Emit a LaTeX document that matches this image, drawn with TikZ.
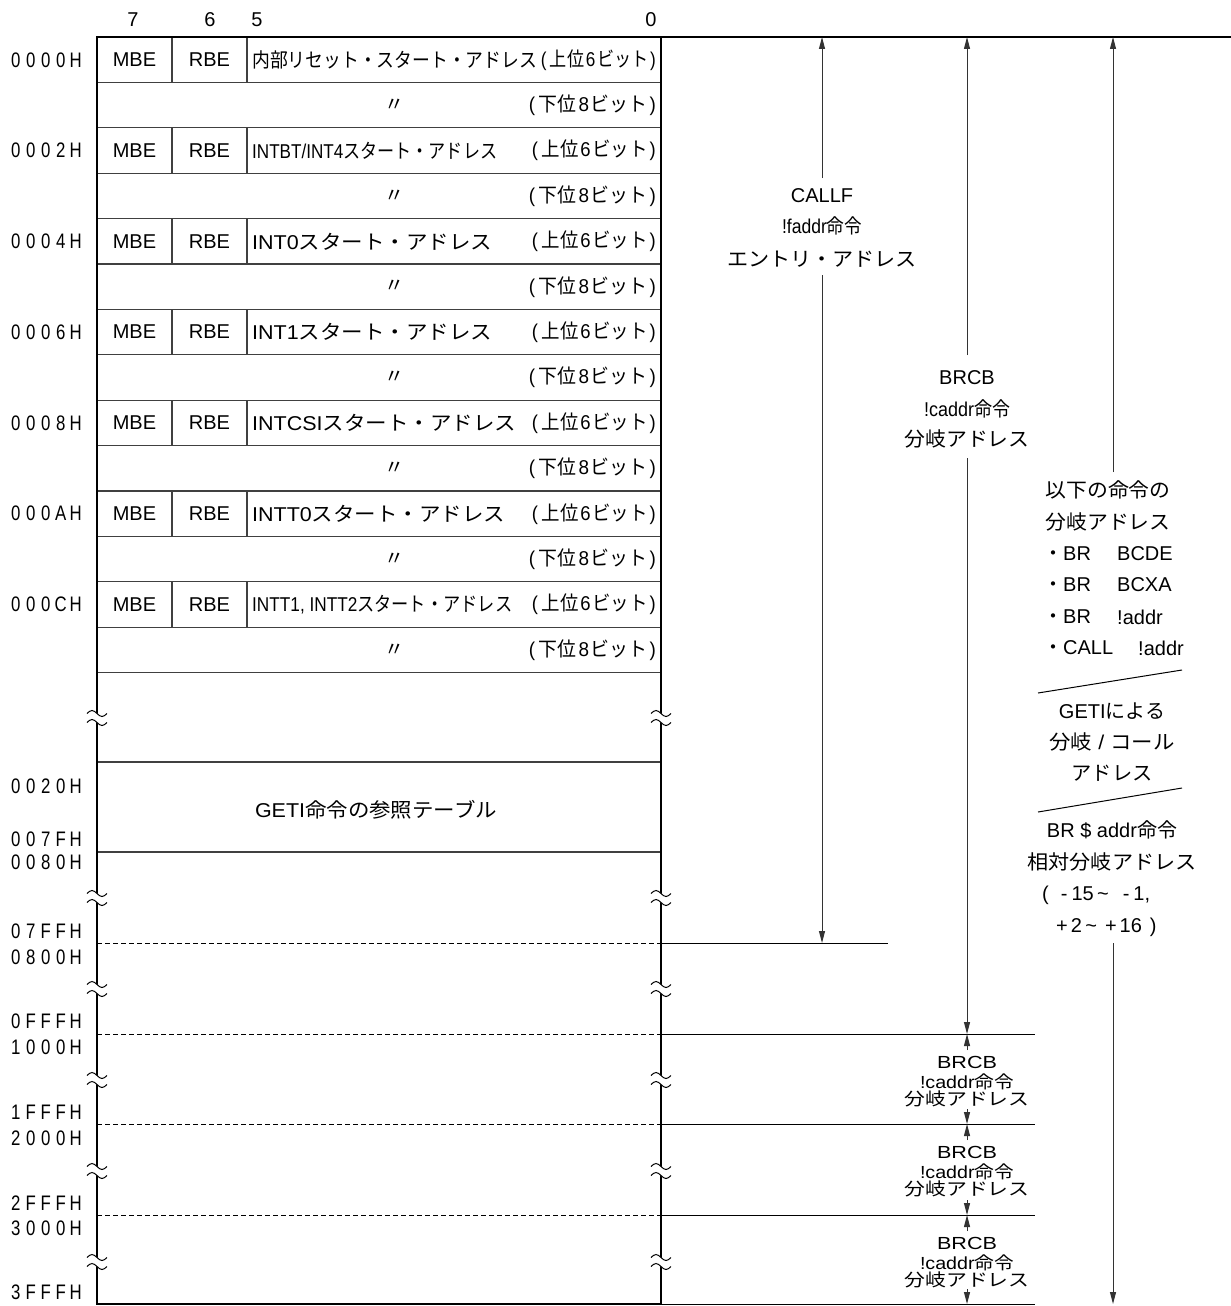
\documentclass[tikz,border=0pt]{standalone}
\usepackage{fontspec}
\usepackage{graphicx}
\setmainfont{Liberation Sans}
\newfontfamily\jp{Noto Sans CJK JP}
\usetikzlibrary{arrows.meta}
\newcommand\fw[2]{\resizebox{#1}{\height}{#2}}
\newcommand\J[1]{{\jp #1}}
\newcommand\ac[1]{\makebox[15pt][c]{\scalebox{0.8}[1]{#1}}}
\newcommand\adrs[5]{\ac{#1}\ac{#2}\ac{#3}\ac{#4}\ac{#5}}
\newcommand\upb{(\hspace{4pt}\J{上位}\hspace{2pt}6\hspace{2pt}\J{ビット}\hspace{2pt})}
\newcommand\lob{(\hspace{4pt}\J{下位}\hspace{2pt}8\hspace{2pt}\J{ビット}\hspace{2pt})}
\newcommand\brkmark[2]{%
  \fill[white] (#1-10,#2-4.5) sin (#1-5,#2-7.5) cos (#1,#2-4.5) sin (#1+5,#2-1.5) cos (#1+10,#2-4.5)
     -- (#1+10,#2+4.5) sin (#1+5,#2+7.5) cos (#1,#2+4.5) sin (#1-5,#2+1.5) cos (#1-10,#2+4.5) -- cycle;
  \draw[line width=1pt] (#1-10,#2-4.5) sin (#1-5,#2-7.5) cos (#1,#2-4.5) sin (#1+5,#2-1.5) cos (#1+10,#2-4.5);
  \draw[line width=1pt] (#1-10,#2+4.5) sin (#1-5,#2+1.5) cos (#1,#2+4.5) sin (#1+5,#2+7.5) cos (#1+10,#2+4.5);
}
\tikzset{
  lbl/.style={inner sep=0pt, font=\fontsize{20}{24}\selectfont},
  sml/.style={inner sep=0pt, font=\fontsize{17.5}{20}\selectfont},
  adr/.style={inner sep=0pt, anchor=east, font=\fontsize{21}{24}\selectfont},
  thickln/.style={line width=2.6pt},
  rowline/.style={line width=1.1pt, black!75},
  arr/.style={line width=1pt, black!80, -{Triangle[length=12pt,width=6pt]}},
  dline/.style={line width=1pt, dash pattern=on 5pt off 3pt},
  hline/.style={line width=1pt},
  slant/.style={line width=1pt}
}
\begin{document}
\begin{tikzpicture}[x=1pt,y=-1pt]
\useasboundingbox (0,0) rectangle (1231,1306);
\fill[white] (0,0) rectangle (1231,1306);

% header bit numbers
\node[lbl] (h7) at (133,20) {7};
\node[lbl] (h6) at (210,20) {6};
\node[lbl] (h5) at (257,20) {5};
\node[lbl] (h0) at (651,20) {0};

% row separators
\foreach \i in {1,...,14} {
  \draw[rowline] (97,37+45.4*\i) -- (661,37+45.4*\i);
}
\draw[rowline] (97,762) -- (661,762);
\draw[rowline] (97,852) -- (661,852);
% column dividers and MBE/RBE
\foreach \k in {0,...,6} {
  \draw[rowline] (172,37+90.8*\k) -- (172,82.4+90.8*\k);
  \draw[rowline] (247,37+90.8*\k) -- (247,82.4+90.8*\k);
  \node[lbl] (mbe\k) at (134.5,59.7+90.8*\k) {MBE};
  \node[lbl] (rbe\k) at (209.5,59.7+90.8*\k) {RBE};
  \node[lbl] (dit\k) at (394,105.1+90.8*\k) {\J{〃}};
  \node[lbl,anchor=east] (lo\k) at (656,105.1+90.8*\k) {\fw{127pt}{\lob}};
}
% upper row texts
\node[lbl,anchor=west] (t0) at (252,59.7) {\fw{285pt}{\J{内部リセット・スタート・アドレス}}};
\node[lbl,anchor=east] (u0) at (656,59.7) {\fw{115pt}{\upb}};
\node[lbl,anchor=west] (t1) at (252,150.5) {\fw{245pt}{INTBT/INT4\J{スタート・アドレス}}};
\node[lbl,anchor=east] (u1) at (656,150.5) {\fw{124pt}{\upb}};
\node[lbl,anchor=west] (t2) at (252,241.3) {\fw{240pt}{INT0\J{スタート・アドレス}}};
\node[lbl,anchor=east] (u2) at (656,241.3) {\fw{124pt}{\upb}};
\node[lbl,anchor=west] (t3) at (252,332.1) {\fw{240pt}{INT1\J{スタート・アドレス}}};
\node[lbl,anchor=east] (u3) at (656,332.1) {\fw{124pt}{\upb}};
\node[lbl,anchor=west] (t4) at (252,422.9) {\fw{264pt}{INTCSI\J{スタート・アドレス}}};
\node[lbl,anchor=east] (u4) at (656,422.9) {\fw{124pt}{\upb}};
\node[lbl,anchor=west] (t5) at (252,513.7) {\fw{253pt}{INTT0\J{スタート・アドレス}}};
\node[lbl,anchor=east] (u5) at (656,513.7) {\fw{124pt}{\upb}};
\node[lbl,anchor=west] (t6) at (252,604.5) {\fw{260pt}{INTT1, INTT2\J{スタート・アドレス}}};
\node[lbl,anchor=east] (u6) at (656,604.5) {\fw{124pt}{\upb}};

% GETI table
\node[lbl] (geti) at (376,810) {\fw{242pt}{GETI\J{命令の参照テーブル}}};

% address labels
\node[adr] (a0000) at (83.5,60) {\adrs 0000H};
\node[adr] (a0002) at (83.5,150.5) {\adrs 0002H};
\node[adr] (a0004) at (83.5,241.3) {\adrs 0004H};
\node[adr] (a0006) at (83.5,332.1) {\adrs 0006H};
\node[adr] (a0008) at (83.5,422.9) {\adrs 0008H};
\node[adr] (a000A) at (83.5,513.7) {\adrs 000AH};
\node[adr] (a000C) at (83.5,604.5) {\adrs 000CH};
\node[adr] (a0020) at (83.5,786) {\adrs 0020H};
\node[adr] (a007F) at (83.5,839) {\adrs 007FH};
\node[adr] (a0080) at (83.5,862) {\adrs 0080H};
\node[adr] (a07FF) at (83.5,931) {\adrs 07FFH};
\node[adr] (a0800) at (83.5,957) {\adrs 0800H};
\node[adr] (a0FFF) at (83.5,1021) {\adrs 0FFFH};
\node[adr] (a1000) at (83.5,1047) {\adrs 1000H};
\node[adr] (a1FFF) at (83.5,1112) {\adrs 1FFFH};
\node[adr] (a2000) at (83.5,1138) {\adrs 2000H};
\node[adr] (a2FFF) at (83.5,1203) {\adrs 2FFFH};
\node[adr] (a3000) at (83.5,1228) {\adrs 3000H};
\node[adr] (a3FFF) at (83.5,1292) {\adrs 3FFFH};

% dashed lines inside the map
\foreach \yy in {943,1034,1124,1215} {
  \draw[dline] (97,\yy) -- (661,\yy);
}
% right horizontal end lines
\coordinate (e1a) at (661,943);  \coordinate (e1b) at (888,943);
\coordinate (e2a) at (661,1034); \coordinate (e2b) at (1035,1034);
\coordinate (e3a) at (661,1124); \coordinate (e3b) at (1035,1124);
\coordinate (e4a) at (661,1215); \coordinate (e4b) at (1035,1215);
\coordinate (e5a) at (661,1304); \coordinate (e5b) at (1035,1304);
\draw[hline] (e1a) -- (e1b);
\draw[hline] (e2a) -- (e2b);
\draw[hline] (e3a) -- (e3b);
\draw[hline] (e4a) -- (e4b);
\draw[hline] (e5a) -- (e5b);

% main frame
\draw[thickln] (1231,37) -- (97,37) -- (97,1304) -- (661,1304);
\draw[thickln] (661,37) -- (661,1304);

% break marks
\foreach \yy in {718,898,989,1080,1171,1262} {
  \brkmark{97}{\yy}
  \brkmark{661}{\yy}
}

% arrow 1: CALLF
\node[lbl] (c1) at (822,196) {CALLF};
\node[lbl] (c2) at (822,226) {\fw{80pt}{!faddr\J{命令}}};
\node[lbl] (c3) at (822,259) {\fw{190pt}{\J{エントリ・アドレス}}};
\coordinate (a1top) at (822,37);  \coordinate (a1up) at (822,178);
\coordinate (a1dn) at (822,275);  \coordinate (a1bot) at (822,943);
\draw[arr] (a1up) -- (a1top);
\draw[arr] (a1dn) -- (a1bot);

% arrow 2: BRCB
\node[lbl] (b1) at (967,378) {BRCB};
\node[lbl] (b2) at (967,409) {\fw{86pt}{!caddr\J{命令}}};
\node[lbl] (b3) at (967,439) {\fw{125pt}{\J{分岐アドレス}}};
\coordinate (a2top) at (967,37);  \coordinate (a2up) at (967,355);
\coordinate (a2dn) at (967,458);  \coordinate (a2bot) at (967,1034);
\draw[arr] (a2up) -- (a2top);
\draw[arr] (a2dn) -- (a2bot);

% arrow 3
\node[lbl] (r1) at (1108,490) {\fw{125pt}{\J{以下の命令の}}};
\node[lbl] (r2) at (1108,522) {\fw{125pt}{\J{分岐アドレス}}};
\node[lbl,anchor=west] (r3a) at (1043,554) {\J{・}BR};
\node[lbl,anchor=west] (r3b) at (1117,554) {BCDE};
\node[lbl,anchor=west] (r4a) at (1043,585) {\J{・}BR};
\node[lbl,anchor=west] (r4b) at (1117,585) {BCXA};
\node[lbl,anchor=west] (r5a) at (1043,617) {\J{・}BR};
\node[lbl,anchor=west] (r5b) at (1117,617) {!addr};
\node[lbl,anchor=west] (r6a) at (1043,648) {\J{・}CALL};
\node[lbl,anchor=west] (r6b) at (1138,648) {!addr};
\coordinate (s1a) at (1038,693); \coordinate (s1b) at (1182,670);
\draw[slant] (s1a) -- (s1b);
\node[lbl] (g1) at (1112,711) {GETI\J{による}};
\node[lbl] (g2) at (1112,742) {\fw{125pt}{\J{分岐} / \J{コール}}};
\node[lbl] (g3) at (1112,773) {\fw{81pt}{\J{アドレス}}};
\coordinate (s2a) at (1038,812); \coordinate (s2b) at (1182,788);
\draw[slant] (s2a) -- (s2b);
\node[lbl] (q1) at (1112,830) {BR \$ addr\J{命令}};
\node[lbl] (q2) at (1112,862) {\fw{169pt}{\J{相対分岐アドレス}}};
\node[lbl,anchor=west] (q3) at (1042,895) {(\hspace{12pt}-\hspace{4pt}15\,\textasciitilde\hspace{14pt}-\hspace{4pt}1,};
\node[lbl,anchor=west] (q4) at (1056,927) {+\hspace{3pt}2\,\textasciitilde\hspace{8pt}+\hspace{3pt}16\hspace{8pt})};
\coordinate (a3top) at (1113,37);  \coordinate (a3up) at (1113,472);
\coordinate (a3dn) at (1113,943);  \coordinate (a3bot) at (1113,1304);
\draw[arr] (a3up) -- (a3top);
\draw[arr] (a3dn) -- (a3bot);

% small BRCB groups
\foreach \k/\ya/\yb in {1/1034/1124, 2/1124/1215, 3/1215/1304} {
  \node[sml] (sb\k) at (967,\ya+28) {\fw{60pt}{BRCB}};
  \node[sml] (sc\k) at (967,\ya+48) {\fw{94pt}{!caddr\J{命令}}};
  \node[sml] (sd\k) at (967,\ya+65) {\fw{125pt}{\J{分岐アドレス}}};
  \coordinate (p\k a) at (967,\ya);   \coordinate (p\k b) at (967,\ya+16);
  \coordinate (p\k c) at (967,\yb-15); \coordinate (p\k d) at (967,\yb);
  \draw[arr] (p\k b) -- (p\k a);
  \draw[arr] (p\k c) -- (p\k d);
}
\end{tikzpicture}
\end{document}
